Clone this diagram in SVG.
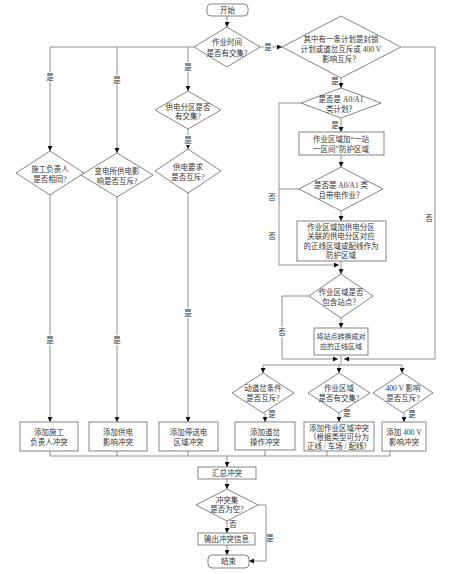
<svg xmlns="http://www.w3.org/2000/svg" width="450" height="574" viewBox="0 0 450 574">
<defs>
<marker id="ah" viewBox="0 0 6 6" refX="6" refY="3" markerWidth="5" markerHeight="5" markerUnits="userSpaceOnUse" orient="auto">
<path d="M0,0 L6,3 L0,6 Z" fill="#111"/>
</marker>
<style>
.s{fill:#fff;stroke:#666;stroke-width:0.8}
.c{fill:none;stroke:#777;stroke-width:0.8}
.a{marker-end:url(#ah)}
text{font-family:"Liberation Serif","Noto Sans CJK SC",serif;font-size:7.5px;fill:#333;text-anchor:middle;dominant-baseline:central}
.sm{font-size:7px}
.lb{fill:#fff;stroke:none}
</style>
</defs>
<rect width="450" height="574" fill="#fff"/>
<g id="connectors">
<path class="c a" d="M227,16 V27"/>
<path class="c a" d="M260,47 H282"/>
<path class="c" d="M194,47 H50"/>
<path class="c a" d="M50,47 V151"/>
<path class="c a" d="M117,47 V153"/>
<path class="c a" d="M188,47 V91"/>
<path class="c a" d="M188,129 V149"/>
<path class="c a" d="M50,195 V422"/>
<path class="c a" d="M117,197 V422"/>
<path class="c a" d="M188,193 V422"/>
<path class="c a" d="M341,77 V88"/>
<path class="c a" d="M401,47 H435 V359 H344"/>
<path class="c a" d="M341,118 V132"/>
<path class="c a" d="M301,103 H279 V265 H339"/>
<path class="c a" d="M341,155 V167"/>
<path class="c" d="M300,189 H279"/>
<path class="c a" d="M341,211 V221"/>
<path class="c a" d="M341,261 V274"/>
<path class="c a" d="M341,318 V328"/>
<path class="c a" d="M309,296 H282 V359 H338"/>
<path class="c" d="M341,355 V365"/>
<path class="c" d="M263,365 H402"/>
<path class="c a" d="M263,365 V373"/>
<path class="c a" d="M339,365 V373"/>
<path class="c a" d="M402,365 V373"/>
<path class="c a" d="M265,413 V422"/>
<path class="c a" d="M339,413 V422"/>
<path class="c a" d="M404,413 V422"/>
<path class="c" d="M50,451 V456 M117,451 V456 M188,451 V456 M265,450 V456 M327,451 V456 M390,451 V456 M50,456 H390"/>
<path class="c a" d="M227,456 V467"/>
<path class="c a" d="M227,479 V489"/>
<path class="c a" d="M227,521 V533"/>
<path class="c a" d="M227,545 V555"/>
<path class="c a" d="M258,505 H266 V561 H249"/>
<rect class="lb" x="264" y="42" width="8" height="10"/><text x="268" y="47">是</text>
<rect class="lb" x="46" y="72" width="8" height="10"/><text x="50" y="77">是</text>
<rect class="lb" x="113" y="75" width="8" height="10"/><text x="117" y="80">是</text>
<rect class="lb" x="184" y="62" width="8" height="10"/><text x="188" y="67">是</text>
<rect class="lb" x="184" y="135" width="8" height="10"/><text x="188" y="140">是</text>
<rect class="lb" x="46" y="335" width="8" height="10"/><text x="50" y="340">是</text>
<rect class="lb" x="113" y="335" width="8" height="10"/><text x="117" y="340">是</text>
<rect class="lb" x="184" y="308" width="8" height="10"/><text x="188" y="313">是</text>
<text x="335" y="81">是</text>
<text x="335" y="125">是</text>
<text x="429" y="218">否</text>
<text x="272" y="197">否</text>
<text x="272" y="236">否</text>
<rect class="lb" x="278" y="327" width="8" height="10"/><text x="282" y="332">否</text>
<text x="272" y="414">是</text>
<text x="347" y="413">是</text>
<text x="412" y="414">是</text>
<text x="233" y="524">否</text>
<text x="270" y="538">是</text>
</g>
<g id="start"><rect class="s" x="207" y="4" width="41" height="12" rx="4"/><text x="227.5" y="10">开始</text></g>
<g id="d-time"><polygon class="s" points="227,27 260,47 227,67 194,47"/><text x="227" y="42">作业时间</text><text x="227" y="53">是否有交集?</text></g>
<g id="d-lock"><polygon class="s" points="341,16 401,47 341,78 282,47"/><text x="341" y="39">其中有一条计划是封锁</text><text x="341" y="49">计划或道岔互斥或 400 V</text><text x="341" y="59">影响互斥？</text></g>
<g id="d-power-zone"><polygon class="s" points="188,91 221,110 188,129 155,110"/><text x="188" y="107">供电分区是否</text><text x="188" y="116">有交集?</text></g>
<g id="d-leader"><polygon class="s" points="50,151 84,173 50,195 16,173"/><text x="50" y="169">施工负责人</text><text x="50" y="179">是否相同?</text></g>
<g id="d-substation"><polygon class="s" points="117,153 153,175 117,197 81,175"/><text x="117" y="171">变电所供电影</text><text x="117" y="181">响是否互斥?</text></g>
<g id="d-supply"><polygon class="s" points="188,149 221,171 188,193 155,171"/><text x="188" y="167">供电要求</text><text x="188" y="177">是否互斥?</text></g>
<g id="d-a0a1"><polygon class="s" points="341,88 381,103 341,118 301,103"/><text x="341" y="99">是否是 A0/A1</text><text x="341" y="109">类计划？</text></g>
<g id="b-station"><rect class="s" x="299" y="132" width="85" height="23"/><text x="341" y="139">作业区域加“一站</text><text x="341" y="149">一区间”防护区域</text></g>
<g id="d-live"><polygon class="s" points="341,167 383,189 341,211 299,189"/><text x="341" y="185">是否是 A0/A1 类</text><text x="341" y="195">且带电作业？</text></g>
<g id="b-zone"><rect class="s" x="297" y="221" width="89" height="40"/><text x="341" y="227">作业区域加供电分区</text><text x="341" y="236.5">关联的供电分区对应</text><text x="341" y="246">的正线区域或配线作为</text><text x="341" y="255.5">防护区域</text></g>
<g id="d-site"><polygon class="s" points="341,274 373,296 341,318 309,296"/><text x="341" y="292">作业区域是否</text><text x="341" y="302">包含站点？</text></g>
<g id="b-convert"><rect class="s" x="314" y="328" width="54" height="27"/><text class="sm" x="341" y="337">将站点转换成对</text><text class="sm" x="341" y="347">应的正线区域</text></g>
<g id="d-switch"><polygon class="s" points="263,373 294,393 263,413 232,393"/><text x="263" y="388">动道岔条件</text><text x="263" y="398">是否互斥?</text></g>
<g id="d-area"><polygon class="s" points="339,373 370,393 339,413 308,393"/><text x="339" y="388">作业区域</text><text x="339" y="398">是否有交集?</text></g>
<g id="d-400v"><polygon class="s" points="403,373 433,393 403,413 373,393"/><text x="403" y="388">400 V 影响</text><text x="403" y="398">是否互斥?</text></g>
<g id="b-leader"><rect class="s" x="20" y="422" width="58" height="29"/><text x="49" y="432">添加施工</text><text x="49" y="442">负责人冲突</text></g>
<g id="b-substation"><rect class="s" x="89" y="422" width="58" height="29"/><text x="118" y="432">添加供电</text><text x="118" y="442">影响冲突</text></g>
<g id="b-supply"><rect class="s" x="159" y="422" width="59" height="29"/><text x="188.5" y="432">添加停送电</text><text x="188.5" y="442">区域冲突</text></g>
<g id="b-switch"><rect class="s" x="235" y="422" width="60" height="28"/><text x="265" y="432">添加道岔</text><text x="265" y="442">操作冲突</text></g>
<g id="b-area"><rect class="s" x="304" y="422" width="70" height="29"/><text x="339" y="428">添加作业区域冲突</text><text x="339" y="437">（根据类型可分为</text><text x="339" y="446">正线 / 车场 / 配线）</text></g>
<g id="b-400v"><rect class="s" x="382" y="422" width="44" height="29"/><text x="404" y="432">添加 400 V</text><text x="404" y="442">影响冲突</text></g>
<g id="b-sum"><rect class="s" x="198" y="467" width="58" height="12"/><text x="227" y="473">汇总冲突</text></g>
<g id="d-empty"><polygon class="s" points="227,489 258,505 227,521 196,505"/><text x="227" y="500">冲突集</text><text x="227" y="509">是否为空?</text></g>
<g id="b-output"><rect class="s" x="198" y="533" width="57" height="12"/><text x="226.5" y="539">输出冲突信息</text></g>
<g id="end"><rect class="s" x="208" y="555" width="41" height="13" rx="4"/><text x="228.5" y="561.5">结束</text></g>
</svg>
